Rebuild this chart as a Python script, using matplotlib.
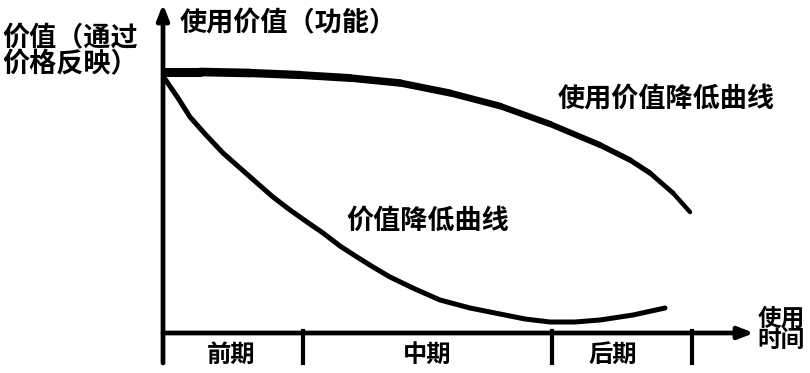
import numpy as np
import matplotlib
matplotlib.use("Agg")
import matplotlib.pyplot as plt
from matplotlib.collections import LineCollection

plt.rcParams['font.family'] = ['Noto Sans CJK SC', 'DejaVu Sans']

## curves (x = time, y = value, picture pixel units)
use_x = [165, 200, 250, 300, 350, 400, 450, 500, 550, 600, 630, 650, 673, 690]
use_y = [72, 72, 73, 75, 78, 83, 93, 106, 124, 145, 160, 173, 193, 212]
val_x = [165, 178, 190, 206, 223, 240, 257, 273, 290, 307, 323, 340, 357, 373,
         390, 415, 440, 470, 500, 525, 550, 575, 600, 633, 665]
val_y = [79, 98, 117, 135, 153, 168, 183, 197, 210, 222, 233, 246, 257, 267,
         277, 289, 300, 308, 314, 319, 322, 322, 320, 315, 308]

## stage boundaries on the time axis and their labels
stage_edges = [163, 303, 552, 692]
stage_names = ['前期', '中期', '后期']
stage_x = [231, 427, 613]

fig = plt.figure(figsize=(8.1, 3.73), dpi=100)
ax = fig.add_axes([0, 0, 1, 1])
ax.set_xlim(0, 810)
ax.set_ylim(373, 0)
ax.axis('off')

## axes with arrows
arrow = dict(arrowstyle='-|>,head_length=0.9,head_width=0.35', lw=3.4,
             color='black', shrinkA=0, shrinkB=0)
ax.annotate('', xy=(163, 4), xytext=(163, 363), arrowprops=arrow)
ax.annotate('', xy=(754, 333), xytext=(163, 333), arrowprops=arrow)
for x in stage_edges[1:]:
    ax.plot([x, x], [331, 363], color='black', lw=3)

## use-value curve: thick at the start, thinner towards the end
pts = np.column_stack([use_x, use_y])
segs = np.stack([pts[:-1], pts[1:]], axis=1)
widths = np.linspace(6.5, 3.2, len(segs))
ax.add_collection(LineCollection(segs, linewidths=widths, colors='black',
                                 capstyle='round', joinstyle='round'))
## value curve
ax.plot(val_x, val_y, color='black', lw=3.6, solid_capstyle='round',
        solid_joinstyle='round')

## labels
bold = dict(fontweight='bold', color='black')
ax.text(2, 51, '价值（通过\n价格反映）', fontsize=19.5, ha='left', va='center',
        linespacing=0.9, **bold)
ax.text(180, 23, '使用价值（功能）', fontsize=19.5, ha='left', va='center', **bold)
ax.text(666, 100, '使用价值降低曲线', fontsize=19.5, ha='center', va='center', **bold)
ax.text(428, 221, '价值降低曲线', fontsize=19.5, ha='center', va='center', **bold)
ax.text(781, 329, '使用\n时间', fontsize=17, ha='center', va='center',
        linespacing=0.85, **bold)
for name, cx in zip(stage_names, stage_x):
    ax.text(cx, 355, name, fontsize=17.5, ha='center', va='center', **bold)

fig.savefig('out.png', dpi=100)
